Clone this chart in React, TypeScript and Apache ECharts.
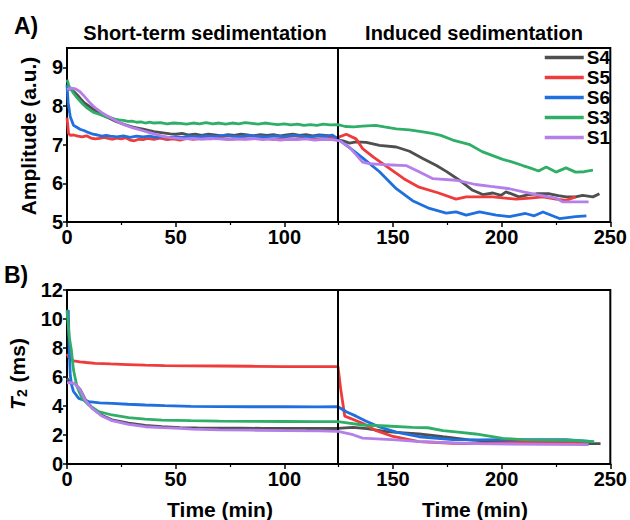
import React, { useEffect, useRef } from "react";
import * as echarts from "echarts";

// ---------- data (time in min, value) ----------
const seriesNames = ["S4", "S5", "S6", "S3", "S1"];
const seriesColors = ["#4f4f4f", "#ee3b3b", "#1f6fde", "#2fae68", "#b57fea"];
const dividerTime = 124.7;
const xTicks = [0, 50, 100, 150, 200, 250];
const ampTicks = [5, 6, 7, 8, 9];
const t2Ticks = [0, 2, 4, 6, 8, 10, 12];

// Panel A: Amplitude (a.u.)
const ampS4 = [[0,8.42],[1.5,8.44],[3,8.38],[4.5,8.30],[6,8.20],[8,8.08],[10,8.00],[12,7.92],[14,7.85],[16,7.78],[18,7.72],[20,7.67],[22.5,7.60],[25,7.55],[27.5,7.50],[30,7.46],[32.5,7.43],[35,7.40],[37.5,7.37],[40,7.34],[42.5,7.32],[45,7.30],[47.5,7.28],[50,7.27],[53,7.29],[56,7.25],[59,7.27],[62,7.24],[65,7.27],[68,7.25],[71,7.23],[74,7.26],[77,7.24],[80,7.27],[83,7.25],[86,7.23],[89,7.26],[92,7.24],[95,7.26],[98,7.23],[101,7.25],[104,7.27],[107,7.24],[110,7.26],[113,7.23],[116,7.25],[119,7.24],[122,7.22],[124.7,7.12],[127,7.10],[130,7.04],[133,7.07],[137.7,7.06],[143.8,6.98],[151.5,6.94],[157.6,6.83],[163.7,6.64],[170,6.46],[174.5,6.31],[180.6,6.08],[186.7,5.82],[191.3,5.71],[196,5.75],[199.7,5.69],[202,5.78],[208,5.65],[212,5.70],[216,5.73],[222,5.73],[226,5.68],[229.6,5.65],[234,5.65],[237.3,5.69],[242,5.65],[245,5.73]];
const ampS5 = [[0,7.70],[0.7,7.30],[1.5,7.24],[3,7.25],[5,7.22],[7,7.20],[9,7.23],[11,7.17],[13,7.15],[15,7.16],[17,7.19],[19,7.16],[21,7.14],[23,7.17],[25,7.15],[27,7.18],[29,7.12],[31,7.10],[33,7.14],[35,7.13],[37,7.16],[40,7.14],[43,7.17],[46,7.13],[49,7.15],[52,7.12],[55,7.16],[58,7.14],[62,7.16],[66,7.15],[70,7.17],[75,7.14],[80,7.16],[85,7.15],[90,7.17],[95,7.14],[100,7.16],[105,7.15],[110,7.17],[115,7.14],[120,7.16],[124.7,7.19],[128.5,7.27],[133,7.15],[136,6.90],[141,6.68],[148,6.40],[155,6.12],[162,5.90],[171,5.75],[179,5.59],[183.7,5.65],[196,5.65],[206.7,5.59],[213,5.62],[219,5.65],[225,5.59],[229.6,5.56],[234,5.65]];
const ampS6 = [[0,8.55],[0.5,8.10],[1.5,7.72],[3,7.50],[4.5,7.45],[6,7.40],[8,7.36],[10,7.31],[12,7.27],[14,7.25],[16,7.22],[18,7.24],[20,7.22],[23,7.20],[26,7.23],[29,7.19],[32,7.22],[35,7.20],[38,7.22],[41,7.19],[44,7.21],[47,7.18],[50,7.21],[53,7.19],[56,7.22],[60,7.20],[64,7.23],[68,7.21],[72,7.24],[76,7.22],[80,7.21],[84,7.24],[88,7.22],[92,7.20],[96,7.23],[100,7.21],[104,7.24],[108,7.22],[112,7.20],[116,7.23],[120,7.22],[122,7.25],[124.7,7.15],[131,6.88],[136,6.66],[143.8,6.30],[151.5,5.86],[159,5.55],[166.8,5.35],[174.5,5.23],[179,5.26],[183.7,5.18],[189.8,5.26],[197.5,5.18],[203.6,5.14],[211,5.22],[215,5.16],[219,5.26],[226.6,5.09],[234,5.14],[239,5.16]];
const ampS3 = [[0,8.68],[1,8.50],[2,8.42],[3,8.33],[4.5,8.22],[6,8.13],[7.5,8.04],[9,7.96],[10.5,7.90],[12,7.84],[14,7.80],[16,7.76],[18,7.72],[20,7.70],[22,7.66],[24,7.64],[26,7.63],[28,7.60],[30,7.61],[32,7.58],[34,7.59],[36,7.56],[38,7.58],[40,7.56],[43,7.57],[46,7.54],[49,7.56],[52,7.55],[55,7.53],[58,7.56],[61,7.54],[64,7.57],[67,7.54],[70,7.56],[73,7.53],[76,7.56],[79,7.54],[82,7.57],[85,7.55],[88,7.53],[91,7.56],[94,7.54],[97,7.52],[100,7.54],[103,7.51],[106,7.53],[109,7.50],[112,7.52],[115,7.50],[118,7.53],[121,7.51],[124.7,7.52],[128,7.47],[132,7.46],[136,7.48],[142,7.50],[146,7.46],[151.5,7.41],[157.6,7.38],[163,7.34],[168,7.29],[172,7.24],[177.5,7.12],[185,7.01],[191,6.82],[200.5,6.62],[205,6.55],[209.7,6.46],[213,6.40],[217,6.32],[220.5,6.42],[225,6.29],[229.6,6.40],[234,6.29],[238,6.30],[242,6.34]];
const ampS1 = [[0,8.43],[2,8.46],[4,8.44],[6,8.37],[8,8.25],[10,8.12],[12,8.00],[14,7.91],[16,7.83],[18,7.76],[20,7.70],[22.5,7.62],[25,7.55],[27.5,7.49],[30,7.44],[32.5,7.40],[35,7.36],[37.5,7.32],[40,7.28],[42.5,7.24],[45,7.20],[47.5,7.18],[50,7.17],[54,7.15],[58,7.16],[62,7.14],[66,7.16],[70,7.15],[74,7.13],[78,7.15],[82,7.14],[86,7.16],[90,7.13],[94,7.15],[98,7.12],[102,7.14],[106,7.13],[110,7.15],[114,7.12],[118,7.14],[122,7.13],[125.5,7.10],[130,6.93],[136,6.55],[139,6.51],[147,6.48],[156,6.46],[162,6.30],[168.4,6.12],[179,6.08],[188,5.97],[195,5.92],[203.6,5.86],[210,5.78],[216,5.71],[225,5.62],[228,5.52],[240,5.52]];

// Panel B: T2 (ms)
const t2S4 = [[0,5.90],[1.5,5.60],[3.8,5.52],[6.1,5.12],[8.4,4.45],[11.5,3.88],[16,3.36],[20.7,3.05],[28.3,2.82],[36,2.66],[43.7,2.57],[52,2.51],[60,2.49],[70,2.48],[80,2.47],[90,2.46],[100,2.46],[110,2.45],[120,2.45],[124.7,2.45],[131.6,2.53],[138,2.44],[147,2.23],[155,2.15],[162,2.07],[168,1.98],[173,1.88],[185,1.66],[192,1.60],[203.6,1.54],[220,1.48],[240,1.40],[245.5,1.40]];
const t2S5 = [[0,7.60],[1,7.30],[3,7.12],[6,7.05],[9,7.00],[13,6.94],[20,6.90],[28,6.86],[36,6.82],[45,6.79],[57,6.77],[70,6.76],[85,6.74],[100,6.72],[115,6.71],[124.7,6.71],[126,5.10],[127.8,3.30],[136,2.81],[142.3,2.30],[150,1.90],[162,1.54],[177.5,1.43],[188,1.40],[203.6,1.48],[219,1.50],[240,1.48]];
const t2S6 = [[0,10.50],[0.6,10.60],[1,8.10],[1.5,6.10],[2.2,5.40],[3,5.00],[5.4,4.53],[10,4.30],[15,4.22],[20.7,4.18],[28,4.12],[36,4.07],[45,4.02],[57,3.97],[70,3.96],[85,3.95],[100,3.95],[115,3.94],[124.7,3.95],[128.5,3.60],[133,3.30],[137.7,2.95],[143.8,2.55],[151.5,2.20],[162,1.88],[177.5,1.68],[188,1.66],[203.6,1.68],[229.6,1.68],[242,1.54]];
const t2S3 = [[0,10.60],[1,8.80],[2,7.86],[3,6.48],[4.6,5.33],[6.9,4.53],[10,4.07],[14.6,3.61],[20.7,3.38],[28.3,3.20],[36,3.10],[43.7,3.03],[57,2.99],[70,2.96],[85,2.94],[100,2.93],[115,2.92],[124.7,2.92],[128,2.86],[136,2.69],[147,2.62],[159,2.53],[166,2.50],[173,2.30],[180,2.20],[188,2.07],[200.5,1.77],[211,1.66],[234,1.62],[242.6,1.54]];
const t2S1 = [[0,5.60],[1.5,5.61],[3.8,5.52],[6.1,5.10],[8.4,4.41],[11.5,3.84],[16,3.31],[20.7,2.99],[28.3,2.74],[36,2.57],[43.7,2.51],[52,2.46],[57.4,2.40],[70,2.36],[85,2.33],[100,2.30],[116,2.28],[124.7,2.25],[131.6,2.02],[136,1.78],[151.5,1.66],[162,1.54],[188,1.40],[240,1.33]];

const ampData = [ampS4, ampS5, ampS6, ampS3, ampS1];
const t2Data = [t2S4, t2S5, t2S6, t2S3, t2S1];

const FONT = "'Liberation Sans', Arial, sans-serif";

export default function App() {
  const ref = useRef<HTMLDivElement>(null);
  useEffect(() => {
    if (!ref.current) return;
    const chart = echarts.init(ref.current, null, { renderer: "svg" });
    const axisLabelStyle = { color: "#000", fontSize: 20, fontWeight: "bold" as const, fontFamily: FONT };
    const mkX = (gridIndex: number) => ({
      type: "value" as const,
      gridIndex,
      min: 0,
      max: 250,
      interval: 50,
      axisLine: { show: true, onZero: false, lineStyle: { color: "#000", width: 2 } },
      axisTick: { show: true, inside: false, length: 5, lineStyle: { color: "#000", width: 1.5 } },
      minorTick: { show: true, splitNumber: 2, length: 3, lineStyle: { color: "#000", width: 1.2 } },
      splitLine: { show: false },
      axisLabel: { ...axisLabelStyle, margin: 5, customValues: xTicks },
    });
    const mkY = (gridIndex: number, min: number, max: number, interval: number, ticks: number[]) => ({
      type: "value" as const,
      gridIndex,
      min,
      max,
      interval,
      axisLine: { show: true, onZero: false, lineStyle: { color: "#000", width: 2 } },
      axisTick: { show: true, inside: false, length: 4, lineStyle: { color: "#000", width: 1.5 }, customValues: ticks },
      splitLine: { show: false },
      axisLabel: { ...axisLabelStyle, margin: 4, customValues: ticks },
    });
    const series: any[] = [];
    seriesNames.forEach((name, i) => {
      series.push({
        name,
        type: "line",
        xAxisIndex: 0,
        yAxisIndex: 0,
        data: ampData[i],
        showSymbol: false,
        symbol: "none",
        lineStyle: { color: seriesColors[i], width: 2.8 },
        itemStyle: { color: seriesColors[i] },
        z: 2 + i,
      });
    });
    seriesNames.forEach((name, i) => {
      series.push({
        name,
        type: "line",
        xAxisIndex: 1,
        yAxisIndex: 1,
        data: t2Data[i],
        showSymbol: false,
        symbol: "none",
        lineStyle: { color: seriesColors[i], width: 2.8 },
        itemStyle: { color: seriesColors[i] },
        z: 2 + i,
      });
    });
    const divider = (xi: number) => ({
      type: "line",
      xAxisIndex: xi,
      yAxisIndex: xi,
      data: [],
      markLine: {
        silent: true,
        symbol: "none",
        label: { show: false },
        lineStyle: { color: "#000", width: 2, type: "solid" },
        data: [{ xAxis: dividerTime }],
      },
      z: 10,
    });
    series.push(divider(0), divider(1));

    const titleStyle = { fill: "#000", fontSize: 20, fontWeight: "bold", fontFamily: FONT };
    chart.setOption({
      animation: false,
      backgroundColor: "#fff",
      grid: [
        { left: 67, right: 19, top: 48, height: 174, show: true, borderColor: "#000", borderWidth: 2, backgroundColor: "transparent" },
        { left: 67, right: 19, top: 290, height: 174, show: true, borderColor: "#000", borderWidth: 2, backgroundColor: "transparent" },
      ],
      xAxis: [mkX(0), mkX(1)],
      yAxis: [mkY(0, 5, 9.5, 1, ampTicks), mkY(1, 0, 12, 2, t2Ticks)],
      legend: {
        data: seriesNames,
        orient: "vertical",
        left: 543,
        top: 48,
        padding: 0,
        itemWidth: 39,
        itemHeight: 14,
        itemGap: 1,
        itemStyle: { opacity: 0 },
        lineStyle: { width: 3.5 },
        textStyle: { color: "#000", fontSize: 19, fontWeight: "bold", fontFamily: FONT, lineHeight: 19, padding: [0, 0, 0, -2] },
      },
      series,
      graphic: [
        { type: "text", x: 205, y: 33, style: { ...titleStyle, text: "Short-term sedimentation", align: "center", verticalAlign: "middle" } },
        { type: "text", x: 474, y: 33, style: { ...titleStyle, text: "Induced sedimentation", align: "center", verticalAlign: "middle" } },
        { type: "text", x: 14, y: 26, style: { ...titleStyle, fontSize: 23, text: "A)", align: "left", verticalAlign: "middle" } },
        { type: "text", x: 4, y: 275, style: { ...titleStyle, fontSize: 23, text: "B)", align: "left", verticalAlign: "middle" } },
        { type: "text", x: 28, y: 136, rotation: Math.PI / 2, style: { ...titleStyle, fontSize: 21, text: "Amplitude (a.u.)", align: "center", verticalAlign: "middle" } },
        {
          type: "text",
          x: 17,
          y: 374,
          rotation: Math.PI / 2,
          style: {
            ...titleStyle,
            fontSize: 21,
            text: "{i|T}{s|2} (ms)",
            align: "center",
            verticalAlign: "middle",
            rich: {
              i: { fontStyle: "italic", fontWeight: "bold", fontSize: 21, fontFamily: FONT, fill: "#000" },
              s: { fontWeight: "bold", fontSize: 14, fontFamily: FONT, fill: "#000", padding: [10, 1, 0, 0] },
            },
          },
        },
        { type: "text", x: 220, y: 509, style: { ...titleStyle, fontSize: 21, text: "Time (min)", align: "center", verticalAlign: "middle" } },
        { type: "text", x: 475, y: 509, style: { ...titleStyle, fontSize: 21, text: "Time (min)", align: "center", verticalAlign: "middle" } },
      ],
    });
    return () => chart.dispose();
  }, []);
  return <div ref={ref} style={{ width: 630, height: 520, position: "absolute", left: 0, top: 0 }} />;
}
